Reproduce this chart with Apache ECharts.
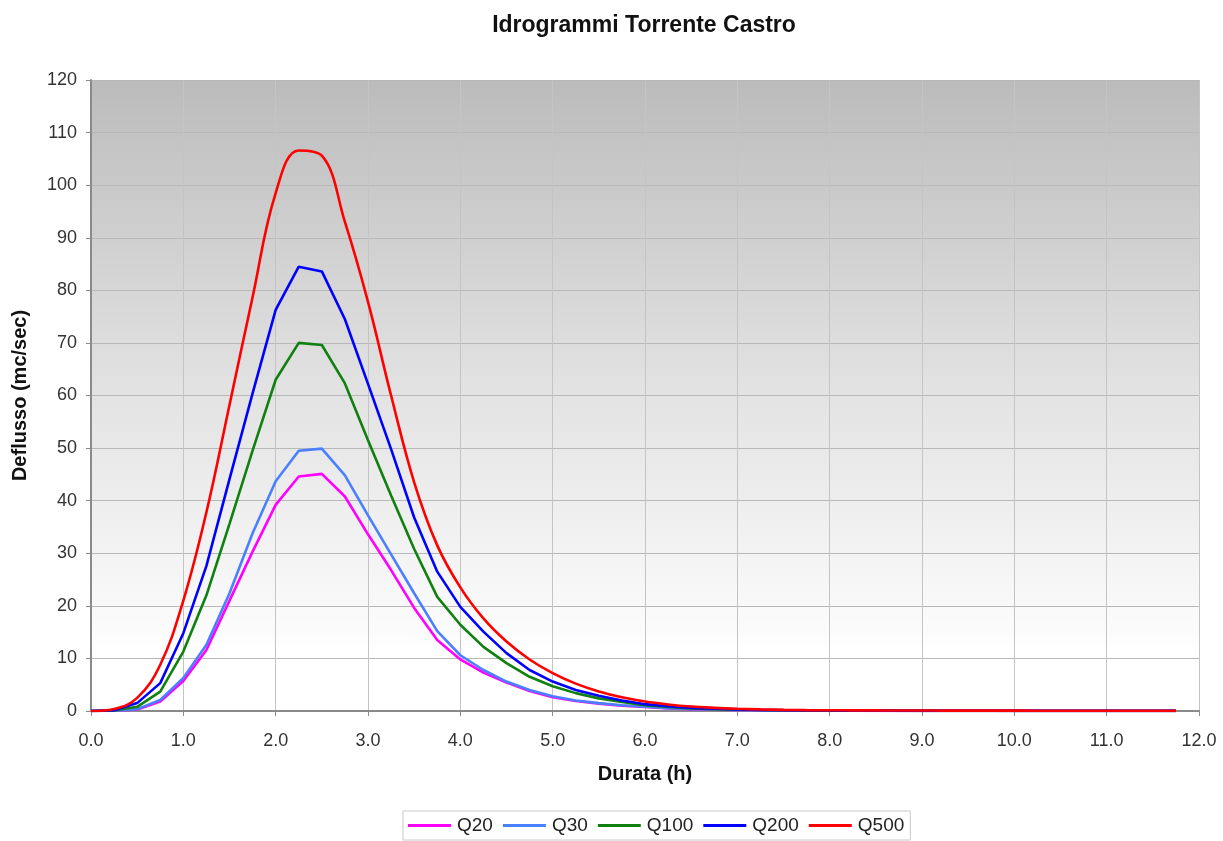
<!DOCTYPE html>
<html>
<head>
<meta charset="utf-8">
<script src="https://cdn.jsdelivr.net/npm/echarts@6/dist/echarts.min.js"></script>
<style>
html,body{margin:0;padding:0;background:#fff;}
#chart{width:1223px;height:841px;}
</style>
</head>
<body>
<div id="chart"></div>
<script>
const titleText = 'Idrogrammi Torrente Castro';
const xName = 'Durata (h)';
const yName = 'Deflusso (mc/sec)';
const seriesNames = ['Q20', 'Q30', 'Q100', 'Q200', 'Q500'];

const times = [0, 0.25, 0.5, 0.75, 1, 1.25, 1.5, 1.75, 2, 2.25, 2.5, 2.75,
  3, 3.25, 3.5, 3.75, 4, 4.25, 4.5, 4.75, 5, 5.25, 5.5, 5.75,
  6, 6.25, 6.5, 6.75, 7, 7.25, 7.5, 7.75, 8, 8.25, 8.5, 8.75,
  9, 9.25, 9.5, 9.75, 10, 10.25, 10.5, 10.75, 11, 11.25, 11.5, 11.75];

const q20 = [0, 0.05, 0.3, 1.8, 5.7, 11.6, 21.0, 30.3, 39.2, 44.6, 45.1, 40.8,
  33.6, 26.8, 19.6, 13.5, 9.8, 7.3, 5.4, 3.8, 2.6, 1.9, 1.4, 1.0,
  0.75, 0.5, 0.35, 0.25, 0.18, 0.13, 0.1, 0.07, 0.05, 0.04, 0.03, 0.02,
  0.02, 0.01, 0.01, 0.01, 0.01, 0.01, 0, 0, 0, 0, 0, 0];
const q30 = [0, 0.05, 0.35, 2.1, 6.3, 12.6, 22.4, 33.8, 43.7, 49.5, 49.9, 44.8,
  37.2, 29.8, 22.4, 15.2, 10.6, 7.8, 5.6, 4.0, 2.8, 2.0, 1.5, 1.1,
  0.8, 0.55, 0.4, 0.3, 0.2, 0.15, 0.1, 0.08, 0.06, 0.05, 0.04, 0.03,
  0.02, 0.02, 0.01, 0.01, 0.01, 0.01, 0.01, 0, 0, 0, 0, 0];
const q100 = [0, 0.1, 0.8, 3.7, 11.3, 22.0, 35.6, 49.5, 63.0, 70.0, 69.6, 62.3,
  51.5, 41.0, 30.8, 21.7, 16.4, 12.2, 9.1, 6.5, 4.7, 3.4, 2.4, 1.7,
  1.1, 0.75, 0.5, 0.35, 0.25, 0.18, 0.13, 0.1, 0.07, 0.06, 0.05, 0.04,
  0.03, 0.03, 0.02, 0.02, 0.02, 0.01, 0.01, 0.01, 0.01, 0.01, 0.01, 0.01];
const q200 = [0, 0.15, 1.5, 5.3, 14.8, 27.6, 44.1, 60.4, 76.3, 84.5, 83.6, 74.5,
  62.2, 49.8, 36.8, 26.5, 19.8, 15.1, 11.0, 7.8, 5.6, 4.0, 2.9, 2.0,
  1.3, 0.9, 0.6, 0.45, 0.3, 0.22, 0.16, 0.12, 0.09, 0.08, 0.07, 0.06,
  0.05, 0.05, 0.04, 0.04, 0.03, 0.03, 0.03, 0.03, 0.02, 0.02, 0.02, 0.02];
const q500 = [0, 0.4, 2.5, 8.8, 21.0, 37.8, 58.2, 78.7, 98.5, 106.6, 105.6, 93.0,
  77.8, 60.0, 43.5, 31.5, 23.5, 17.6, 13.2, 9.8, 7.2, 5.2, 3.7, 2.6,
  1.8, 1.25, 0.85, 0.6, 0.42, 0.3, 0.22, 0.17, 0.14, 0.12, 0.11, 0.1,
  0.09, 0.08, 0.08, 0.07, 0.07, 0.06, 0.06, 0.05, 0.05, 0.05, 0.05, 0.05];

const seriesValues = [q20, q30, q100, q200, q500];
const colors = ['#ff00ff', '#4a7fff', '#108010', '#0000ff', '#ff0000'];
const smoothFlags = [false, false, false, false, 0.4];

const fontFam = 'Arial, "Liberation Sans", Helvetica, sans-serif';

const chart = echarts.init(document.getElementById('chart'), null, {renderer: 'canvas'});
const option = {
  animation: false,
  backgroundColor: '#ffffff',
  title: {
    text: titleText,
    left: 639,
    textAlign: 'center',
    top: 9,
    textStyle: {fontFamily: fontFam, fontSize: 23, fontWeight: 'bold', color: '#111'}
  },
  grid: {
    left: 91, right: 24, top: 80, bottom: 130,
    show: true,
    borderWidth: 0,
    backgroundColor: new echarts.graphic.LinearGradient(0, 0, 0, 1, [
      {offset: 0, color: '#bbbbbb'},
      {offset: 0.1, color: '#c4c4c4'},
      {offset: 0.5, color: '#e3e3e3'},
      {offset: 0.75, color: '#f3f3f3'},
      {offset: 0.88, color: '#fcfcfc'},
      {offset: 0.9, color: '#ffffff'},
      {offset: 1, color: '#ffffff'}
    ])
  },
  legend: {
    data: seriesNames,
    top: 811,
    left: 403,
    icon: 'rect',
    itemWidth: 43,
    itemHeight: 3,
    itemGap: 10,
    borderColor: '#c8c8c8',
    borderWidth: 1,
    padding: [5, 6, 5, 5],
    textStyle: {fontFamily: fontFam, fontSize: 19, color: '#222', padding: [0, 0, 0, 1]}
  },
  xAxis: {
    type: 'value',
    min: 0, max: 12, interval: 1,
    name: xName,
    nameLocation: 'middle',
    nameGap: 53,
    nameTextStyle: {fontFamily: fontFam, fontSize: 20, fontWeight: 'bold', color: '#111'},
    axisLine: {show: true, lineStyle: {color: '#8a8a8a', width: 2}},
    axisTick: {show: true, length: 5, lineStyle: {color: '#8a8a8a'}},
    axisLabel: {fontFamily: fontFam, fontSize: 18, color: '#333', margin: 21,
      formatter: v => v.toFixed(1)},
    splitLine: {show: true, lineStyle: {color: '#c4c4c4', width: 1}}
  },
  yAxis: {
    type: 'value',
    min: 0, max: 120, interval: 10,
    name: yName,
    nameLocation: 'middle',
    nameGap: 61,
    nameTextStyle: {fontFamily: fontFam, fontSize: 20, fontWeight: 'bold', color: '#111'},
    axisLine: {show: true, lineStyle: {color: '#8a8a8a', width: 2}},
    axisTick: {show: true, length: 5, lineStyle: {color: '#8a8a8a'}},
    axisLabel: {fontFamily: fontFam, fontSize: 18, color: '#333', margin: 14},
    splitLine: {show: true, lineStyle: {color: '#b8b8b8', width: 1}}
  },
  series: seriesNames.map((name, i) => ({
    name: name,
    type: 'line',
    data: times.map((t, j) => [t, seriesValues[i][j]]),
    showSymbol: false,
    symbol: 'none',
    smooth: smoothFlags[i],
    lineStyle: {color: colors[i], width: 2.6},
    itemStyle: {color: colors[i]},
    z: 2 + i
  }))
};
chart.setOption(option);
</script>
</body>
</html>
